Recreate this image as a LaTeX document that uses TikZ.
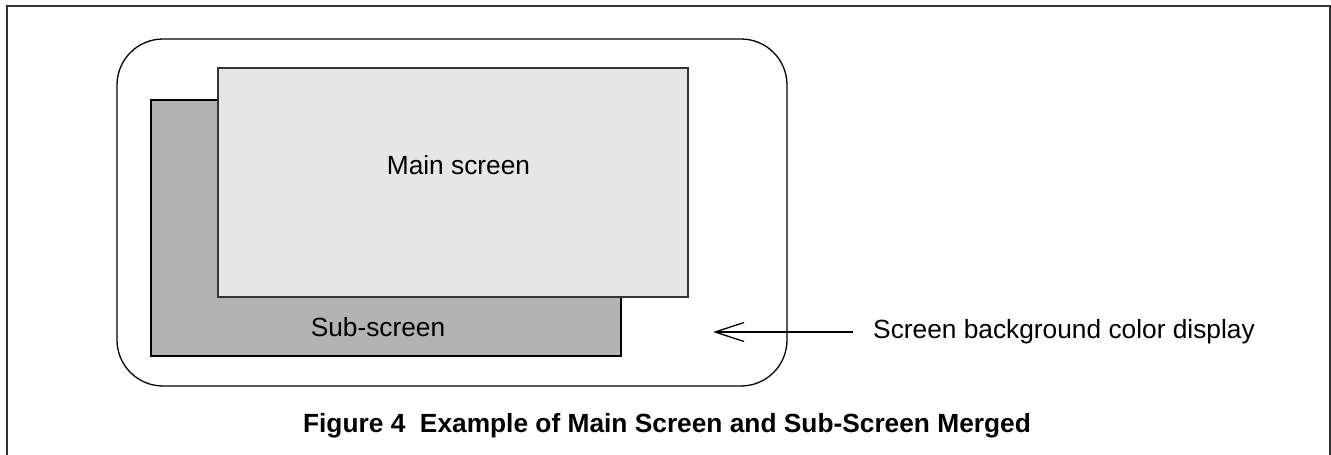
\documentclass[tikz,border=0pt]{standalone}
\usepackage{fontspec}
\setmainfont{Liberation Sans}
\usetikzlibrary{arrows.meta}
\definecolor{maingray}{HTML}{E6E6E6}
\definecolor{subgray}{HTML}{B3B3B3}
\tikzset{
  txt/.style={inner sep=0pt, font=\fontsize{26.3}{30}\selectfont},
  capt/.style={inner sep=0pt, font=\fontsize{26.3}{30}\selectfont\bfseries},
  scr/.style={line width=1.3pt},
}
\begin{document}
\begin{tikzpicture}[x=1pt,y=-1pt]
\useasboundingbox (0,0) rectangle (1331,455);
\clip (0,0) rectangle (1331,455);
% outer frame
\draw[line width=1.5pt, black!80] (7,480) -- (7,6) -- (1330,6) -- (1330,480);
% display outline
\draw[scr, rounded corners=46pt] (117,39) rectangle (787,386);
% sub-screen
\draw[scr, fill=subgray, draw=black] (151,100) rectangle (621,356);
% main screen
\draw[scr, fill=maingray, draw=black!80] (218,68) rectangle (688,297);
\node[txt, anchor=base] (main) at (458.5,174) {Main screen};
\node[txt, anchor=base] (sub) at (378,336.5) {Sub-screen};
% label and arrow
\node[txt, anchor=base west] (lbl) at (873,338.5) {Screen background color display};
\coordinate (lend) at (853,332);
\coordinate (tip) at (713,332);
\draw[line width=1.3pt, -{Straight Barb[length=29pt,width=19pt,line width=1.3pt]}] (lend) -- (tip);
% caption
\node[capt, anchor=base] (cap) at (667,432) {Figure 4\ \ Example of Main Screen and Sub-Screen Merged};
\end{tikzpicture}
\end{document}
